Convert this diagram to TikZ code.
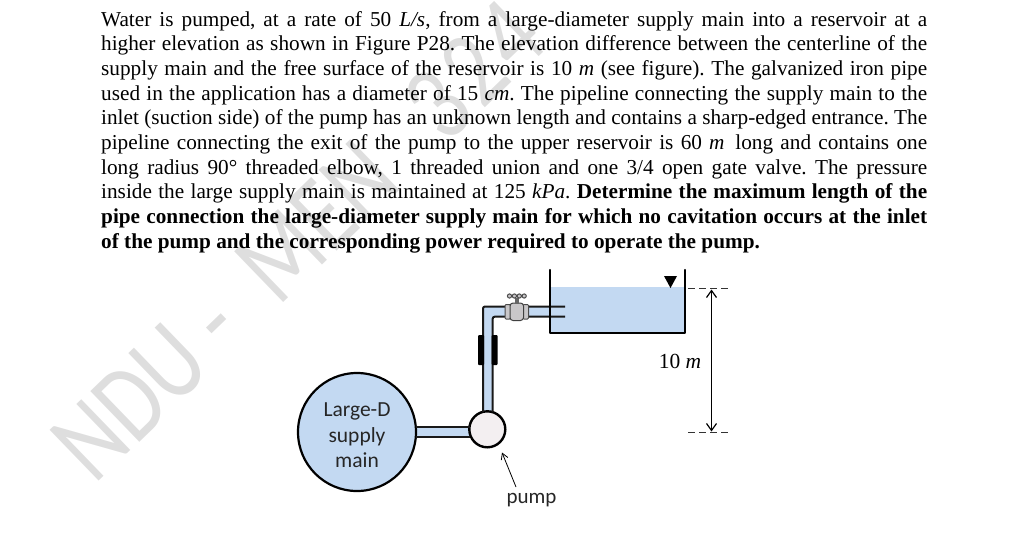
\documentclass[tikz,border=0pt]{standalone}
\usepackage{fontspec}
\setmainfont{Liberation Serif}
\newfontfamily\labelfont{Carlito}
\newfontfamily\markfont{Carlito}
\usetikzlibrary{arrows.meta}
\definecolor{water}{HTML}{C3D9F2}
\definecolor{mark}{HTML}{DEDEDE}
\definecolor{pumpfill}{HTML}{F3EFF1}
\definecolor{valvegray}{HTML}{C9C7C9}
\newcommand{\mi}[1]{\textit{#1}}
\tikzset{
  wall/.style={line width=2.2pt,draw=black,line cap=round},
  pipeedge/.style={line width=2pt,draw=black!90},
  labeltext/.style={font=\labelfont\fontsize{21.5}{25.5}\selectfont,text=black!85,align=center,inner sep=0pt},
  dim/.style={line width=1.2pt,draw=black,{Straight Barb[length=7pt,width=10pt]}-{Straight Barb[length=7pt,width=10pt]}},
  level/.style={line width=0.8pt,draw=black!80,dashed,dash pattern=on 7pt off 4pt},
}
\begin{document}
\begin{tikzpicture}[x=1pt,y=-1pt]
\useasboundingbox (0,0) rectangle (1030,536);
% watermark
\node[rotate=44,xscale=.8,font=\markfont\fontsize{110}{110}\selectfont,text=mark,inner sep=0pt,anchor=base west] (wm) at (94,486) {NDU -\hspace{.25em} MEN\hspace{.44em} 3\kern.06em 2\kern.06em 4};
% statement
\node[anchor=north west,inner sep=0pt,text width=826pt,align=justify,font=\fontsize{21.25}{24.68}\selectfont\frenchspacing] (body) at (101,11) {%
Water is pumped, at a rate of 50 \mi{L/s}, from a large-diameter supply main into a reservoir at a\linebreak
higher elevation as shown in Figure P28. The elevation difference between the centerline of the\linebreak
supply main and the free surface of the reservoir is 10 \mi{m} (see figure). The galvanized iron pipe\linebreak
used in the application has a diameter of 15 \mi{cm}. The pipeline connecting the supply main to the\linebreak
inlet (suction side) of the pump has an unknown length and contains a sharp-edged entrance. The\linebreak
pipeline connecting the exit of the pump to the upper reservoir is 60 \mi{m}\, long and contains one\linebreak
long radius 90° threaded elbow, 1 threaded union and one 3/4 open gate valve. The pressure\linebreak
inside the large supply main is maintained at 125 \mi{kPa}. \textbf{Determine the maximum length of the}\linebreak
\textbf{pipe connection the large-diameter supply main for which no cavitation occurs at the inlet}\linebreak
\textbf{of the pump and the corresponding power required to operate the pump.}};
% water
\fill[water] (550,287) rectangle (685,333);
% pipes fill
\fill[water] (416,427) rectangle (470,437);
\fill[water] (483,307) rectangle (493,412);
\fill[water] (483,307) rectangle (565,317);
% main
\node[circle,draw=black,line width=2.2pt,fill=water,minimum size=118pt,inner sep=0pt] (main) at (357,432) {};
\node[labeltext] (mainlabel) at (357,435.5) {Large-D\\supply\\main};
% pump
\node[circle,draw=black,line width=2.4pt,fill=pumpfill,minimum size=36pt,inner sep=0pt] (pump) at (487.3,429.3) {};
% pipe edges
\coordinate (sTop) at (415.5,427);
\coordinate (sBot) at (415.5,437);
\draw[pipeedge] (sTop) -- (470,427);
\draw[pipeedge] (sBot) -- (470,437);
\coordinate (a1) at (483,412);
\coordinate (a2) at (492.7,412);
\coordinate (tA) at (565,306.5);
\coordinate (tB) at (565,316.7);
\draw[pipeedge,rounded corners=2pt] (a1) -- (483,306.5) -- (tA);
\draw[pipeedge,rounded corners=2pt] (a2) -- (492.7,316.7) -- (tB);
% union
\fill[black,rounded corners=1pt] (478,335) rectangle (484,365);
\fill[black,rounded corners=1pt] (491.7,335) rectangle (497.5,365);
% tank
\coordinate (t1) at (550,270);
\coordinate (t2) at (550,333);
\coordinate (t3) at (685,333);
\coordinate (t4) at (685,270);
\draw[wall,line join=round] (t1) -- (t2) -- (t3) -- (t4);
\fill[black] (664,276) -- (677,276) -- (670.5,288) -- cycle;
% valve
\fill[valvegray,draw=black!70,line width=1pt,rounded corners=1pt] (505,304.5) rectangle (510.5,319);
\fill[valvegray,draw=black!70,line width=1pt,rounded corners=1pt] (523,304.5) rectangle (528.5,319);
\fill[valvegray,draw=black!75,line width=1pt,rounded corners=3pt] (510,303) rectangle (523.5,320.5);
\fill[black!60] (515,298) rectangle (518.5,303.5);
\draw[black!70,line width=1pt,fill=valvegray] (509.5,296) circle (2.1pt) (514.4,296) circle (2.1pt) (519.3,296) circle (2.1pt) (524.2,296) circle (2.1pt);
% dimension
\coordinate (lvTopA) at (688,288);
\coordinate (lvTopB) at (731,288);
\coordinate (lvBotA) at (688,432.3);
\coordinate (lvBotB) at (731,432.3);
\draw[level] (lvTopA) -- (lvTopB);
\draw[level] (lvBotA) -- (lvBotB);
\coordinate (dT) at (711.5,289.5);
\coordinate (dB) at (711.5,431.5);
\draw[dim] (dT) -- (dB);
\node[anchor=center,inner sep=0pt,font=\fontsize{21.5}{24}\selectfont] (tenm) at (680,361) {10 \mi{m}};
% pump label
\node[labeltext,anchor=center,font=\labelfont\fontsize{21}{25}\selectfont] (pumplabel) at (531.5,500.5) {pump};
\coordinate (pl) at (516,487);
\coordinate (pt) at (502,452.5);
\draw[line width=0.8pt,-{Straight Barb[length=6pt,width=7pt]}] (pl) -- (pt);
\end{tikzpicture}
\end{document}
